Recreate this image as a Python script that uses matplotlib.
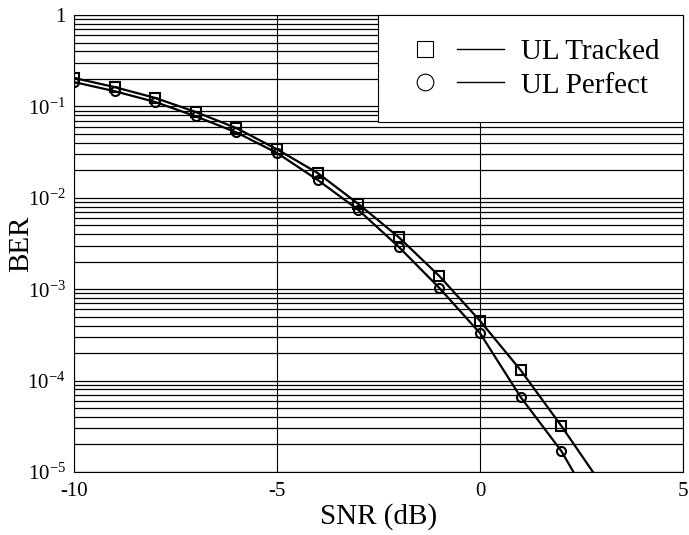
import math

import matplotlib
matplotlib.use('Agg')
import matplotlib.pyplot as plt
from matplotlib.lines import Line2D
from matplotlib.legend_handler import HandlerTuple
from matplotlib.ticker import FixedLocator, FuncFormatter, LogLocator

# Дані
snr_db = [-10, -9, -8, -7, -6, -5, -4, -3, -2, -1, 0, 1, 2, 3]
ber_tracked = [0.205, 0.163, 0.124, 0.087, 0.058, 0.034, 0.0187, 0.0086,
               0.0037, 0.00139, 0.00045, 1.3e-4, 3.2e-5, 7.2e-6]
ber_perfect = [0.185, 0.147, 0.112, 0.078, 0.052, 0.031, 0.0157, 0.0074,
               0.0029, 0.00103, 0.00033, 6.6e-5, 1.7e-5, 2.9e-6]
marker_snr = [-10, -9, -8, -7, -6, -5, -4, -3, -2, -1, 0, 1, 2]
x_ticks = [-10, -5, 0, 5]
x_tick_labels = ['-10', '-5', '0', '5']
y_ticks = [1e-5, 1e-4, 1e-3, 1e-2, 1e-1, 1]

plt.rcParams['font.family'] = ['Liberation Serif', 'DejaVu Serif']
plt.rcParams['mathtext.default'] = 'regular'
plt.rcParams['axes.unicode_minus'] = False

fig = plt.figure(figsize=(6.89, 5.35), dpi=100)
ax = fig.add_axes([0.1074, 0.1178, 0.884, 0.854])

n_mark = len(marker_snr)
ax.plot(snr_db, ber_tracked, color='black', linewidth=1.6, zorder=3)
ax.plot(marker_snr, ber_tracked[:n_mark], linestyle='none', marker='s',
        markersize=6.5, markerfacecolor='none', markeredgecolor='black',
        markeredgewidth=1.5, zorder=4)
ax.plot(snr_db, ber_perfect, color='black', linewidth=1.6, zorder=3)
ax.plot(marker_snr, ber_perfect[:n_mark], linestyle='none', marker='o',
        markersize=6.5, markerfacecolor='none', markeredgecolor='black',
        markeredgewidth=1.5, zorder=4)

ax.set_yscale('log')
ax.set_xlim(-10, 5)
ax.set_ylim(1e-5, 1)

ax.set_xticks(x_ticks)
ax.set_xticklabels(x_tick_labels)

ax.yaxis.set_major_locator(FixedLocator(y_ticks))
ax.yaxis.set_minor_locator(LogLocator(base=10, subs=range(2, 10), numticks=20))


def y_fmt(v, pos):
    if abs(v - 1) < 1e-9:
        return '1'
    exp = int(round(math.log10(v)))
    return r'$10^{%d}$' % exp


ax.yaxis.set_major_formatter(FuncFormatter(y_fmt))
ax.tick_params(axis='both', which='both', length=0, labelsize=15)
ax.tick_params(axis='x', pad=7)
ax.tick_params(axis='y', pad=6)

# Сітка: горизонтальні лінії на кожному значенні, вертикальні лише на основних
ax.grid(True, axis='y', which='both', color='black', linewidth=0.9)
ax.grid(True, axis='x', which='major', color='black', linewidth=0.8)
ax.set_axisbelow(True)
for sp in ax.spines.values():
    sp.set_linewidth(0.8)

ax.set_xlabel('SNR (dB)', fontsize=21, labelpad=2)
ax.set_ylabel('BER', fontsize=21)
ax.yaxis.set_label_coords(-0.066, 0.5)

sq = Line2D([], [], linestyle='none', marker='s', markersize=12,
            markerfacecolor='white', markeredgecolor='black', markeredgewidth=0.8)
ci = Line2D([], [], linestyle='none', marker='o', markersize=12,
            markerfacecolor='white', markeredgecolor='black', markeredgewidth=0.8)
ln = Line2D([], [], color='black', linewidth=1.0)
leg = ax.legend([(sq, ln), (ci, ln)], ['UL Tracked', 'UL Perfect'],
                handler_map={tuple: HandlerTuple(ndivide=None, pad=0.3)},
                loc='upper right', bbox_to_anchor=(1.0, 1.0),
                borderaxespad=0, fontsize=21, handlelength=3.5,
                handletextpad=0.6, borderpad=0.8, labelspacing=0.25,
                fancybox=False, framealpha=1, edgecolor='black')
leg.get_frame().set_linewidth(0.8)

fig.savefig('out.png', dpi=100)
